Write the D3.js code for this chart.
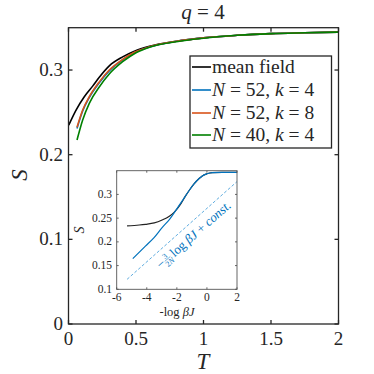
<!DOCTYPE html>
<html>
<head>
<meta charset="utf-8">
<script src="https://d3js.org/d3.v7.min.js"></script>
<style>
  body { margin: 0; background: #fff; }
</style>
</head>
<body>
<div id="chart"></div>
<script>
// ---- data ----
// main panel: entropy S vs temperature T
var mfT = [0.002, 0.056, 0.117, 0.179, 0.228, 0.302, 0.401, 0.488, 0.6, 0.8, 1.0, 1.25, 1.5, 1.75, 2.0];
var mfS = [0.235, 0.2527, 0.2685, 0.281, 0.2915, 0.305, 0.3155, 0.3222, 0.328, 0.334, 0.338, 0.341, 0.343, 0.344, 0.3448];

var n52k4T = [0.063, 0.105, 0.154, 0.228, 0.302, 0.401, 0.488, 0.6, 0.8, 1.0, 1.25, 1.5, 1.75, 2.0];
var n52k4S = [0.231, 0.2515, 0.2675, 0.285, 0.299, 0.312, 0.3207, 0.3272, 0.334, 0.338, 0.341, 0.343, 0.344, 0.3448];

var n52k8T = [0.063, 0.105, 0.154, 0.228, 0.302, 0.401, 0.488, 0.6, 0.8, 1.0, 1.25, 1.5, 1.75, 2.0];
var n52k8S = [0.2323, 0.2527, 0.2685, 0.286, 0.300, 0.3126, 0.321, 0.3275, 0.334, 0.338, 0.341, 0.343, 0.344, 0.3448];

var n40k4T = [0.063, 0.105, 0.154, 0.228, 0.302, 0.401, 0.5, 0.6, 0.8, 1.0, 1.25, 1.5, 1.75, 2.0];
var n40k4S = [0.2173, 0.241, 0.2607, 0.280, 0.2953, 0.3098, 0.3205, 0.327, 0.3335, 0.3375, 0.341, 0.343, 0.344, 0.3448];

// inset: S vs -log(beta J)
var insMfX = [-5.31, -4.5, -4.09, -3.5, -2.98, -2.5, -2.2, -1.76, -1.42, -1.1, -0.87, -0.5, -0.31, 0, 0.36, 1, 2];
var insMfS = [0.2336, 0.2355, 0.237, 0.240, 0.246, 0.254, 0.2617, 0.279, 0.297, 0.312, 0.3216, 0.334, 0.339, 0.3435, 0.346, 0.3466, 0.3466];
var insBlueX = [-4.93, -4.09, -3.5, -2.98, -2.5, -1.87, -1.42, -1.1, -0.87, -0.5, -0.31, 0, 0.36, 1, 2];
var insBlueS = [0.1646, 0.191, 0.2095, 0.230, 0.247, 0.2758, 0.297, 0.312, 0.3216, 0.334, 0.339, 0.3435, 0.346, 0.3466, 0.3466];
var insDashX = [-5.31, 2];
var insDashS = [0.121, 0.327];

var xTicks = [0, 0.5, 1, 1.5, 2];
var yTicks = [0, 0.1, 0.2, 0.3];
var insXTicks = [-6, -4, -2, 0, 2];
var insYTicks = [0.1, 0.15, 0.2, 0.25, 0.3];

var series = [
  {name: "mean field", T: mfT, S: mfS, color: "#000000"},
  {name: "N52k4", T: n52k4T, S: n52k4S, color: "#0072BD"},
  {name: "N52k8", T: n52k8T, S: n52k8S, color: "#D95319"},
  {name: "N40k4", T: n40k4T, S: n40k4S, color: "#008000"}
];

var W = 374, H = 374;
var svg = d3.select("#chart").append("svg").attr("width", W).attr("height", H);

// main axes
var x = d3.scaleLinear().domain([0, 2]).range([68.5, 338.5]);
var y = d3.scaleLinear().domain([0, 0.35]).range([324, 27.7]);

var axisColor = "#262626";

function zip(a, b) { return a.map(function(v, i) { return [v, b[i]]; }); }

var line = d3.line()
  .x(function(d) { return x(d[0]); })
  .y(function(d) { return y(d[1]); })
  .curve(d3.curveMonotoneX);

svg.selectAll("path.curve")
  .data(series)
  .enter()
  .append("path")
    .attr("class", "curve")
    .attr("d", function(d) { return line(zip(d.T, d.S)); })
    .attr("fill", "none")
    .attr("stroke", function(d) { return d.color; })
    .attr("stroke-width", 1.6);

// box + ticks (inward, on all four sides)
function drawBox(g, xs, ys, xt, yt, tickLen, sw, col) {
  var x0 = xs.range()[0], x1 = xs.range()[1], y0 = ys.range()[0], y1 = ys.range()[1];
  g.append("rect").attr("x", x0).attr("y", y1).attr("width", x1 - x0).attr("height", y0 - y1)
    .attr("fill", "none").attr("stroke", col).attr("stroke-width", sw);
  xt.forEach(function(t) {
    g.append("line").attr("x1", xs(t)).attr("x2", xs(t)).attr("y1", y0).attr("y2", y0 - tickLen)
      .attr("stroke", col).attr("stroke-width", sw);
    g.append("line").attr("x1", xs(t)).attr("x2", xs(t)).attr("y1", y1).attr("y2", y1 + tickLen)
      .attr("stroke", col).attr("stroke-width", sw);
  });
  yt.forEach(function(t) {
    g.append("line").attr("x1", x0).attr("x2", x0 + tickLen).attr("y1", ys(t)).attr("y2", ys(t))
      .attr("stroke", col).attr("stroke-width", sw);
    g.append("line").attr("x1", x1).attr("x2", x1 - tickLen).attr("y1", ys(t)).attr("y2", ys(t))
      .attr("stroke", col).attr("stroke-width", sw);
  });
}

var mainG = svg.append("g");
drawBox(mainG, x, y, xTicks, yTicks, 4, 1.3, axisColor);

mainG.selectAll("text.xt").data(xTicks).enter().append("text")
  .attr("x", function(d) { return x(d); }).attr("y", 345)
  .attr("text-anchor", "middle").attr("font-size", 19)
  .text(function(d) { return d; });

mainG.selectAll("text.yt").data(yTicks).enter().append("text")
  .attr("x", 63).attr("y", function(d) { return y(d) + 6; })
  .attr("text-anchor", "end").attr("font-size", 19)
  .text(function(d) { return d; });

svg.append("text").attr("x", 203).attr("y", 369).attr("text-anchor", "middle")
  .attr("font-size", 23).attr("font-style", "italic").text("T");

svg.append("text").attr("transform", "translate(27,175) rotate(-90)").attr("text-anchor", "middle")
  .attr("font-size", 23).attr("font-style", "italic").text("S");

var title = svg.append("text").attr("x", 203).attr("y", 19).attr("text-anchor", "middle")
  .attr("font-size", 21);
title.append("tspan").attr("font-style", "italic").text("q");
title.append("tspan").text(" = 4");

// legend
var lg = svg.append("g");
lg.append("rect").attr("x", 190).attr("y", 56).attr("width", 141.5).attr("height", 92)
  .attr("fill", "#fff").attr("stroke", axisColor).attr("stroke-width", 1.3);
var legendRows = [
  [["mean field", false]],
  [["N", true], [" = 52, ", false], ["k", true], [" = 4", false]],
  [["N", true], [" = 52, ", false], ["k", true], [" = 8", false]],
  [["N", true], [" = 40, ", false], ["k", true], [" = 4", false]]
];
var rowY = [67, 90, 113, 135];
series.forEach(function(s, i) {
  lg.append("line").attr("x1", 192).attr("x2", 211).attr("y1", rowY[i]).attr("y2", rowY[i])
    .attr("stroke", s.color).attr("stroke-width", 1.6);
  var t = lg.append("text").attr("x", 212).attr("y", rowY[i] + 6).attr("font-size", 19.5);
  legendRows[i].forEach(function(p) {
    t.append("tspan").attr("font-style", p[1] ? "italic" : "normal").text(p[0]);
  });
});

// ---- inset ----
var ix = d3.scaleLinear().domain([-6, 2]).range([116.7, 237]);
var iy = d3.scaleLinear().domain([0.1, 0.35]).range([289.3, 170.7]);
var ig = svg.append("g");
ig.append("rect").attr("x", 116.7).attr("y", 170.7).attr("width", 120.3).attr("height", 118.6).attr("fill", "#fff");

var iline = d3.line()
  .x(function(d) { return ix(d[0]); })
  .y(function(d) { return iy(d[1]); })
  .curve(d3.curveMonotoneX);

ig.append("path").attr("d", iline(zip(insDashX, insDashS))).attr("fill", "none")
  .attr("stroke", "#4DA3DB").attr("stroke-width", 0.9).attr("stroke-dasharray", "3,2");
ig.append("path").attr("d", iline(zip(insMfX, insMfS))).attr("fill", "none")
  .attr("stroke", "#222").attr("stroke-width", 1.2);
ig.append("path").attr("d", iline(zip(insBlueX, insBlueS))).attr("fill", "none")
  .attr("stroke", "#0072BD").attr("stroke-width", 1.2);

drawBox(ig, ix, iy, insXTicks, insYTicks, 2, 0.9, "#555");

ig.selectAll("text.ixt").data(insXTicks).enter().append("text")
  .attr("x", function(d) { return ix(d); }).attr("y", 301)
  .attr("text-anchor", "middle").attr("font-size", 11.5)
  .text(function(d) { return d; });
ig.selectAll("text.iyt").data(insYTicks).enter().append("text")
  .attr("x", 112).attr("y", function(d) { return iy(d) + 3.5; })
  .attr("text-anchor", "end").attr("font-size", 11.5)
  .text(function(d) { return d; });

var ixl = ig.append("text").attr("x", 177).attr("y", 316).attr("text-anchor", "middle").attr("font-size", 12.5);
ixl.append("tspan").text("-log ");
ixl.append("tspan").attr("font-style", "italic").text("βJ");

ig.append("text").attr("transform", "translate(84,230) rotate(-90)").attr("text-anchor", "middle")
  .attr("font-size", 14).attr("font-style", "italic").text("S");

// annotation along the dashed asymptote
var ang = Math.atan2(iy(insDashS[1]) - iy(insDashS[0]), ix(insDashX[1]) - ix(insDashX[0])) * 180 / Math.PI;
var annCol = "#0072BD";
var ann = ig.append("g")
  .attr("transform", "translate(" + ix(-3.05) + "," + iy(0.142) + ") rotate(" + ang + ")");
ann.append("text").attr("x", 0).attr("y", 0).attr("font-size", 13).text("−");
ann.append("text").attr("x", 11.5).attr("y", -4.8).attr("text-anchor", "middle").attr("font-size", 8).text("3");
ann.append("line").attr("x1", 8).attr("x2", 15.5).attr("y1", -3.5).attr("y2", -3.5).attr("stroke", annCol).attr("stroke-width", 0.5);
var den = ann.append("text").attr("x", 11.5).attr("y", 3.2).attr("text-anchor", "middle").attr("font-size", 8);
den.append("tspan").text("2");
den.append("tspan").attr("font-style", "italic").text("N");
var rest = ann.append("text").attr("x", 18).attr("y", 0).attr("font-size", 13);
rest.append("tspan").text("log ");
rest.append("tspan").attr("font-style", "italic").text("βJ");
rest.append("tspan").text(" + ");
rest.append("tspan").attr("font-style", "italic").text("const.");

// fonts and colours of all texts
svg.selectAll("text").style("font-family", "'Liberation Serif'").style("fill", "#262626");
ann.selectAll("text").style("fill", annCol);
</script>
</body>
</html>
